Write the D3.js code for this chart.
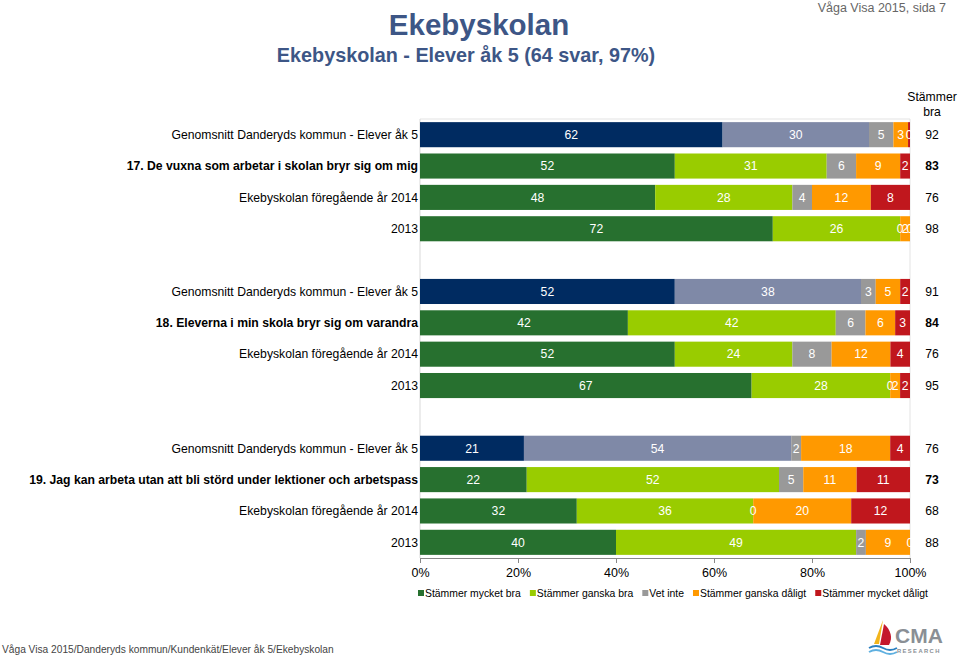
<!DOCTYPE html>
<html><head><meta charset="utf-8">
<script src="https://cdn.jsdelivr.net/npm/d3@7"></script>
<style>
body{margin:0;background:#fff;}
svg{display:block;font-family:"Liberation Sans",Arial,sans-serif;}
</style></head>
<body><svg id="c" width="959" height="658"></svg>
<script>
const rowIds = ["g17a","g17b","g17c","g17d","gap1","g18a","g18b","g18c","g18d","gap2","g19a","g19b","g19c","g19d"];
const rowLabels = [
 "Genomsnitt Danderyds kommun - Elever åk 5",
 "17. De vuxna som arbetar i skolan bryr sig om mig",
 "Ekebyskolan föregående år 2014",
 "2013",
 "",
 "Genomsnitt Danderyds kommun - Elever åk 5",
 "18. Eleverna i min skola bryr sig om varandra",
 "Ekebyskolan föregående år 2014",
 "2013",
 "",
 "Genomsnitt Danderyds kommun - Elever åk 5",
 "19. Jag kan arbeta utan att bli störd under lektioner och arbetspass",
 "Ekebyskolan föregående år 2014",
 "2013"
];
const seriesNames = ["Stämmer mycket bra","Stämmer ganska bra","Vet inte","Stämmer ganska dåligt","Stämmer mycket dåligt"];
const barRows = ["g17a","g17b","g17c","g17d","g18a","g18b","g18c","g18d","g19a","g19b","g19c","g19d"];
const isAverage = [true,false,false,false, true,false,false,false, true,false,false,false];
const mycketBra    = [62,52,48,72, 52,42,52,67, 21,22,32,40];
const ganskaBra    = [30,31,28,26, 38,42,24,28, 54,52,36,49];
const vetInte      = [5,6,4,0, 3,6,8,0, 2,5,0,2];
const ganskaDaligt = [3,9,12,2, 5,6,12,2, 18,11,20,9];
const mycketDaligt = [0.4,2,8,0, 2,3,4,2, 4,11,12,0];
const stammerBra   = [92,83,76,98, 91,84,76,95, 76,73,68,88];
const xTicks = [0,0.2,0.4,0.6,0.8,1];

const colorsSchool  = ["#27702f","#99cc00","#999999","#ff9900","#c0171d"];
const colorsAverage = ["#002b61","#7f89a7","#999999","#ff9900","#c0171d"];

const svg = d3.select("#c");
const L = 420, R = 910, T = 119, B = 558;
const FS = 12.2;

// header
svg.append("text").attr("x",479).attr("y",35).attr("text-anchor","middle")
  .attr("font-size",29.5).attr("font-weight","bold").attr("fill","#3d5686").text("Ekebyskolan");
svg.append("text").attr("x",466).attr("y",62).attr("text-anchor","middle")
  .attr("font-size",19.8).attr("font-weight","bold").attr("fill","#3d5686").text("Ekebyskolan - Elever åk 5 (64 svar, 97%)");
svg.append("text").attr("x",946).attr("y",12).attr("text-anchor","end")
  .attr("font-size",12.5).attr("fill","#666").text("Våga Visa 2015, sida 7");

const data = barRows.map((id,i)=>({id, avg:isAverage[i],
  [seriesNames[0]]:mycketBra[i],[seriesNames[1]]:ganskaBra[i],[seriesNames[2]]:vetInte[i],
  [seriesNames[3]]:ganskaDaligt[i],[seriesNames[4]]:mycketDaligt[i], sb:stammerBra[i], bold:(i%4===1)}));

const x = d3.scaleLinear().domain([0,1]).range([L,R]);
const y = d3.scaleBand().domain(rowIds).range([T,B]).paddingInner(0.2).paddingOuter(0.1);

// plot frame
svg.append("line").attr("x1",L).attr("x2",R).attr("y1",T).attr("y2",T).attr("stroke","#e3e3e3");
svg.append("line").attr("x1",R).attr("x2",R).attr("y1",T).attr("y2",B).attr("stroke","#e3e3e3");
svg.append("line").attr("x1",L).attr("x2",L).attr("y1",T).attr("y2",B).attr("stroke","#d9d9d9");

const stack = d3.stack().keys(seriesNames).offset(d3.stackOffsetExpand);
const series = stack(data);

series.forEach((s,si)=>{
  svg.append("g").selectAll("rect").data(s).join("rect")
    .attr("x",d=>x(d[0])).attr("width",d=>Math.max(0,x(d[1])-x(d[0])))
    .attr("y",d=>y(d.data.id)).attr("height",y.bandwidth())
    .attr("fill",d=>(d.data.avg?colorsAverage:colorsSchool)[si]);
});
series.forEach((s,si)=>{
  svg.append("g").selectAll("text").data(s).join("text")
    .attr("x",d=>(x(d[0])+x(d[1]))/2).attr("y",d=>y(d.data.id)+y.bandwidth()/2+4.3)
    .attr("text-anchor","middle").attr("font-size",FS).attr("fill","#fff")
    .text(d=>Math.round(d.data[s.key]));
});

// row labels
svg.append("g").selectAll("text").data(rowIds.map((id,i)=>({id,label:rowLabels[i]})).filter(d=>d.label)).join("text")
  .attr("x",418).attr("y",d=>y(d.id)+y.bandwidth()/2+4.3).attr("text-anchor","end")
  .attr("font-size",FS).attr("fill","#000")
  .attr("font-weight",d=>/^\d\d\./.test(d.label)?"bold":"normal")
  .text(d=>d.label);

// Stämmer bra
svg.append("text").attr("x",932).attr("y",101).attr("text-anchor","middle").attr("font-size",FS).text("Stämmer");
svg.append("text").attr("x",932).attr("y",116).attr("text-anchor","middle").attr("font-size",FS).text("bra");
svg.append("g").selectAll("text").data(data).join("text")
  .attr("x",932).attr("y",d=>y(d.id)+y.bandwidth()/2+4.3).attr("text-anchor","middle")
  .attr("font-size",FS).attr("font-weight",d=>d.bold?"bold":"normal").text(d=>d.sb);

// axis
const ax = svg.append("g").attr("transform",`translate(0,${B})`)
  .call(d3.axisBottom(x).tickValues(xTicks).tickFormat(d3.format(".0%")).tickSize(5).tickSizeOuter(0));
ax.select(".domain").attr("stroke","#888");
ax.selectAll(".tick line").attr("stroke","#888");
ax.selectAll("text").attr("font-size",12.5).attr("fill","#000").attr("font-family","Liberation Sans, Arial, sans-serif").attr("dy","0.9em");

// legend
const lg = svg.append("g");
let cx = 418;
seriesNames.forEach((n,i)=>{
  lg.append("rect").attr("x",cx).attr("y",590).attr("width",6).attr("height",6).attr("fill",colorsSchool[i]);
  const t = lg.append("text").attr("x",cx+7).attr("y",597).attr("font-size",10.4).attr("fill","#000").text(n);
  cx += 7 + t.node().getComputedTextLength() + 9;
});

// footer
svg.append("text").attr("x",2).attr("y",653).attr("font-size",10.2).attr("fill","#444")
  .text("Våga Visa 2015/Danderyds kommun/Kundenkät/Elever åk 5/Ekebyskolan");

// logo
const logo = svg.append("g").attr("transform","translate(868,618)");
logo.append("path").attr("d","M15,2 L11,26 L6,26 Z").attr("fill","#f2b51c");
logo.append("path").attr("d","M16,6 C23,12 25,20 21,27 L12,27 Z").attr("fill","#c4172c");
logo.append("path").attr("d","M1,30 Q8,26 15,30 T29,30").attr("stroke","#2a7fc0").attr("stroke-width",2).attr("fill","none");
logo.append("path").attr("d","M1,34 Q8,30 15,34 T29,34").attr("stroke","#5fb0e0").attr("stroke-width",2).attr("fill","none");
logo.append("text").attr("x",27).attr("y",25).attr("font-size",21).attr("font-weight","bold").attr("fill","#8a8f95").text("CMA");
logo.append("text").attr("x",29).attr("y",35).attr("font-size",5.8).attr("font-weight","bold").attr("fill","#8a8f95").attr("letter-spacing",1.4).text("RESEARCH");
</script></body></html>
